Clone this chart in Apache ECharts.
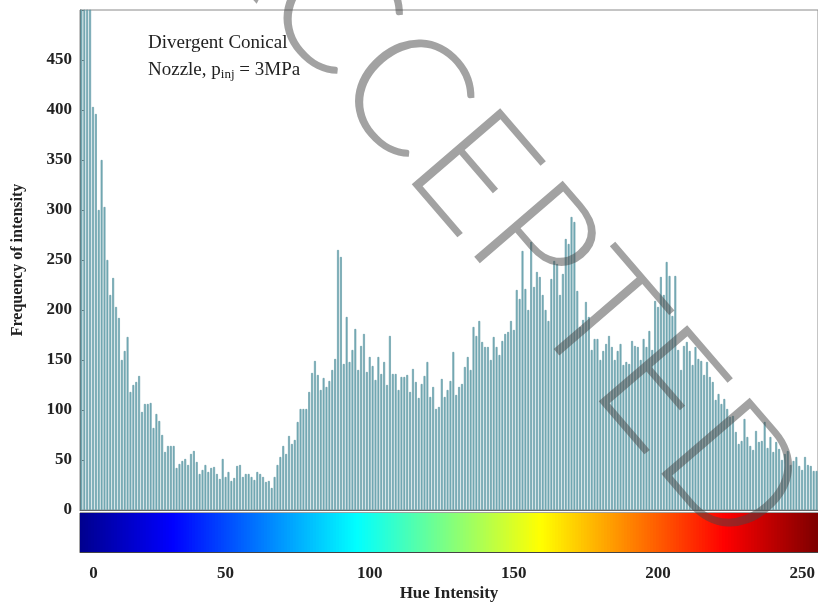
<!DOCTYPE html>
<html>
<head>
<meta charset="utf-8">
<script src="https://cdn.jsdelivr.net/npm/echarts@6/dist/echarts.min.js"></script>
<style>
html,body{margin:0;padding:0;background:#fff;}
#main{width:818px;height:608px;}
</style>
</head>
<body>
<div id="main"></div>
<script>
// hue bins 0..255
var hueBins = [];
for (var i = 0; i < 256; i++) hueBins.push(i);

// frequency per hue bin (first bins run off the top)
var freqValues = [
  1000, 900, 760, 640, 403, 396, 300, 350, 303, 250, 215, 232, 203, 192, 150, 159,
  173, 118, 125, 128, 134, 98, 106, 106, 107, 82, 96, 89, 75, 58, 64, 64,
  64, 42, 46, 49, 51, 45, 56, 59, 48, 36, 40, 45, 38, 42, 43, 36,
  31, 51, 33, 38, 29, 32, 44, 45, 33, 36, 36, 33, 30, 38, 36, 33,
  28, 29, 22, 33, 45, 53, 64, 56, 74, 66, 70, 88, 101, 101, 101, 118,
  137, 149, 135, 120, 132, 123, 129, 140, 151, 260, 253, 146, 193, 148, 160, 181,
  140, 164, 176, 138, 153, 144, 130, 153, 136, 148, 125, 174, 136, 136, 120, 133,
  133, 135, 118, 141, 128, 112, 126, 134, 148, 113, 123, 101, 103, 131, 113, 120,
  129, 158, 115, 123, 126, 143, 153, 140, 183, 174, 189, 168, 163, 163, 150, 173,
  163, 155, 169, 176, 178, 189, 180, 220, 211, 259, 221, 200, 268, 223, 238, 233,
  215, 200, 189, 231, 249, 246, 215, 236, 271, 266, 293, 288, 219, 183, 190, 208,
  193, 160, 171, 171, 150, 159, 166, 174, 163, 150, 159, 166, 145, 148, 146, 169,
  164, 163, 150, 171, 163, 179, 160, 209, 203, 233, 215, 248, 234, 194, 234, 160,
  140, 164, 168, 159, 145, 163, 151, 149, 135, 148, 133, 128, 110, 116, 106, 111,
  101, 93, 94, 78, 66, 69, 91, 73, 64, 60, 79, 68, 69, 88, 62, 73,
  58, 68, 61, 50, 56, 59, 45, 49, 53, 44, 40, 53, 45, 44, 39, 39
];

var xTickLabels = [0, 50, 100, 150, 200, 250];
var jetColors = ['#00008f', '#0000ff', '#0080ff', '#00ffff', '#80ff80', '#ffff00', '#ff8000', '#ff0000', '#800000'];

// colour bar cells: one per hue bin
var colorBarData = [];
for (var j = 0; j < hueBins.length; j++) colorBarData.push([j, 1]);

var serif = '"Liberation Serif", "DejaVu Serif", serif';

var myChart = echarts.init(document.getElementById('main'));
var option = {
  animation: false,
  backgroundColor: '#fff',
  title: {
    left: 143,
    top: 25,
    text: 'Divergent Conical\n{n|Nozzle, p}{sub|inj}{n| = 3MPa}',
    textStyle: {
      fontFamily: serif,
      fontSize: 19,
      fontWeight: 'normal',
      color: '#222',
      lineHeight: 27,
      rich: {
        n: {fontFamily: serif, fontSize: 19, color: '#222'},
        sub: {fontFamily: serif, fontSize: 13, color: '#222', padding: [8, 0, 0, 0]}
      }
    }
  },
  grid: [
    {left: 80, right: 0, top: 10, height: 500, show: true, borderColor: '#8a8a8a', borderWidth: 1},
    {left: 80, right: 0, top: 513, height: 39, show: true, borderColor: '#444', borderWidth: 1}
  ],
  visualMap: {
    type: 'continuous',
    show: false,
    seriesIndex: 1,
    dimension: 0,
    min: 0,
    max: 255,
    inRange: {color: jetColors}
  },
  xAxis: [
    {
      type: 'category',
      gridIndex: 0,
      data: hueBins,
      axisLine: {show: true, lineStyle: {color: '#666'}},
      axisTick: {show: false},
      axisLabel: {show: false}
    },
    {
      type: 'category',
      gridIndex: 1,
      data: hueBins,
      name: 'Hue Intensity',
      nameLocation: 'middle',
      nameGap: 33,
      nameTextStyle: {fontFamily: serif, fontSize: 17, fontWeight: 'bold', color: '#222'},
      axisLine: {show: true, lineStyle: {color: '#444'}},
      axisTick: {
        show: true,
        inside: true,
        length: 5,
        alignWithLabel: true,
        interval: function (idx) { return xTickLabels.indexOf(idx) > 0 && idx < 250; },
        lineStyle: {color: '#333'}
      },
      axisLabel: {
        margin: 13,
        interval: function (idx) { return xTickLabels.indexOf(idx) >= 0; },
        fontFamily: serif,
        fontSize: 17,
        fontWeight: 'bold',
        color: '#222',
        formatter: function (v) { return v == 0 ? '{z|0}' : v; },
        rich: {z: {fontFamily: serif, fontSize: 17, fontWeight: 'bold', color: '#222', padding: [0, 0, 0, 24]}}
      }
    }
  ],
  yAxis: [
    {
      type: 'value',
      gridIndex: 0,
      min: 0,
      max: 500,
      interval: 50,
      name: 'Frequency of intensity',
      nameLocation: 'middle',
      nameGap: 54,
      nameTextStyle: {fontFamily: serif, fontSize: 16, fontWeight: 'bold', color: '#222'},
      axisLine: {show: true, lineStyle: {color: '#666'}},
      axisTick: {show: true, inside: true, length: 4, lineStyle: {color: '#666'}},
      splitLine: {show: false},
      axisLabel: {
        margin: 8,
        fontFamily: serif,
        fontSize: 17,
        fontWeight: 'bold',
        color: '#222',
        formatter: function (v) { return v >= 500 ? '' : v; }
      }
    },
    {
      type: 'value',
      gridIndex: 1,
      min: 0,
      max: 1,
      show: false
    }
  ],
  series: [
    {
      name: 'frequency',
      type: 'bar',
      xAxisIndex: 0,
      yAxisIndex: 0,
      data: freqValues,
      barCategoryGap: '35%',
      clip: true,
      itemStyle: {color: '#7fb4be', borderColor: '#5a94a0', borderWidth: 0.6}
    },
    {
      name: 'colorbar',
      type: 'bar',
      xAxisIndex: 1,
      yAxisIndex: 1,
      data: colorBarData,
      barWidth: 4,
      silent: true
    }
  ],
  graphic: [
    {
      type: 'text',
      x: 500,
      y: 205,
      rotation: -0.86,
      silent: true,
      z: 100,
      style: {
        text: 'ACCEPTED',
        x: 0,
        y: 0,
        align: 'center',
        verticalAlign: 'middle',
        font: '300 165px Lato, "Open Sans", sans-serif',
        fill: 'rgba(70,70,70,0.5)'
      }
    }
  ]
};
myChart.setOption(option);
</script>
</body>
</html>
